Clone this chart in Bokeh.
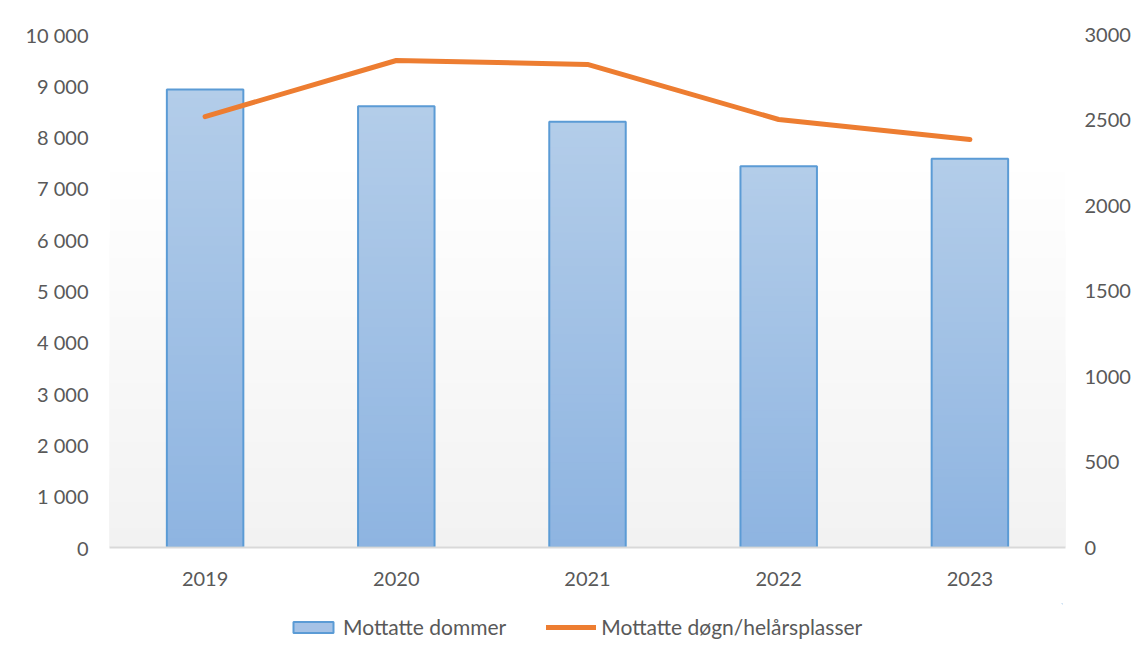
import numpy as np
from bokeh.plotting import figure
from bokeh.layouts import column
from bokeh.models import (Range1d, LinearAxis, FixedTicker, Legend, LegendItem,
                          BoxAnnotation, FactorRange)
from bokeh.embed import file_html
from bokeh.resources import INLINE

# ---------------- data ----------------
years = ["2019", "2020", "2021", "2022", "2023"]
dommer = [8930, 8600, 8300, 7430, 7580]          # Mottatte dommer (left axis)
plasser = [2520, 2848, 2825, 2503, 2386]         # Mottatte døgn/helårsplasser (right axis)
left_ticks = [0, 1000, 2000, 3000, 4000, 5000, 6000, 7000, 8000, 9000, 10000]
right_ticks = [0, 500, 1000, 1500, 2000, 2500, 3000]
left_labels = {t: f"{t:,}".replace(",", " ") for t in left_ticks}
right_labels = {t: str(t) for t in right_ticks}
series_names = ["Mottatte dommer", "Mottatte døgn/helårsplasser"]

# ---------------- style ----------------
FONT = "Lato"
TXT = "#595959"
BAR_TOP = np.array([0xB3, 0xCD, 0xE9])
BAR_BOT = np.array([0x8E, 0xB4, 0xE1])
BAR_MID = "#A5C2E6"
BAR_LINE = "#5B9BD5"
LINE_COL = "#ED7D31"
BG_GRAD_TOP = 7700   # background gradient top (left-axis units)
BG_TOP = np.array([0xFF, 0xFF, 0xFF])
BG_BOT = np.array([0xF2, 0xF2, 0xF2])


def hexc(c):
    c = np.clip(np.round(c), 0, 255).astype(int)
    return "#%02x%02x%02x" % tuple(c)


p = figure(frame_width=956, frame_height=513, x_range=FactorRange(*years),
           y_range=Range1d(0, 10000), output_backend="svg", toolbar_location=None,
           min_border_left=109, min_border_right=65, min_border_top=34,
           min_border_bottom=56)
p.extra_y_ranges = {"right": Range1d(0, 3000)}
p.outline_line_color = None
p.xgrid.visible = False
p.ygrid.visible = False
p.background_fill_color = "white"
p.border_fill_color = "white"

# background gradient (drawn tallest first, lighter; shorter darker on top)
M = 60
for k in range(M, 0, -1):
    f = (k - 1) / (M - 1)
    col = hexc(BG_BOT + (BG_TOP - BG_BOT) * f)
    p.add_layout(BoxAnnotation(bottom=0, top=BG_GRAD_TOP * k / M, fill_color=col,
                               fill_alpha=1, line_color=None, level="underlay"))

# bar gradient
N = 50
dom = np.array(dommer, dtype=float)
for k in range(N, 0, -1):
    f = (k - 1) / (N - 1)
    col = hexc(BAR_BOT + (BAR_TOP - BAR_BOT) * f)
    p.vbar(x=years, top=list(dom * k / N), bottom=0, width=0.4,
           fill_color=col, line_color=None)
# bar outline
p.vbar(x=years, top=dommer, bottom=0, width=0.4, fill_color=None,
       line_color=BAR_LINE, line_width=2)

# line
p.line(x=years, y=plasser, y_range_name="right", line_color=LINE_COL,
       line_width=5, line_cap="round", line_join="round")

# axes
for ax in [p.xaxis[0], p.yaxis[0]]:
    ax.major_tick_line_color = None
    ax.minor_tick_line_color = None
    ax.major_label_text_font = FONT
    ax.major_label_text_font_size = "20px"
    ax.major_label_text_color = TXT

p.xaxis.axis_line_color = "#D9D9D9"
p.xaxis.axis_line_width = 2
p.xaxis.major_label_standoff = 18

ly = p.yaxis[0]
ly.axis_line_color = None
ly.ticker = FixedTicker(ticks=left_ticks)
ly.major_label_overrides = left_labels
ly.major_label_standoff = 15

ry = LinearAxis(y_range_name="right", ticker=FixedTicker(ticks=right_ticks),
                major_label_overrides=right_labels)
ry.axis_line_color = None
ry.major_tick_line_color = None
ry.minor_tick_line_color = None
ry.major_label_text_font = FONT
ry.major_label_text_font_size = "20px"
ry.major_label_text_color = TXT
ry.major_label_standoff = 13
p.add_layout(ry, "right")

# ---------------- legend strip (separate figure below) ----------------
p2 = figure(width=1130, height=50, x_range=Range1d(0, 1), y_range=Range1d(0, 1),
            x_axis_type=None, y_axis_type=None,
            output_backend="svg", toolbar_location=None,
            min_border_left=0, min_border_right=0, min_border_top=0,
            min_border_bottom=0)
p2.grid.visible = False
p2.outline_line_color = None
p2.background_fill_color = "white"
p2.border_fill_color = "white"
# proxy glyphs placed outside the visible range: only their legend swatches show
bar_proxy = p2.vbar(x=[5], top=[5], bottom=[4], width=0.4, fill_color=BAR_MID,
                    line_color=BAR_LINE, line_width=2)
line_proxy = p2.line(x=[5, 6], y=[5, 5], line_color=LINE_COL, line_width=5,
                     line_cap="round")

legend = Legend(items=[LegendItem(label=series_names[0], renderers=[bar_proxy]),
                       LegendItem(label=series_names[1], renderers=[line_proxy])],
                orientation="horizontal", location=(179, 14),
                border_line_color=None, background_fill_alpha=0,
                glyph_width=50, glyph_height=14, label_height=24,
                label_standoff=5, spacing=40, margin=0, padding=0,
                label_text_font=FONT, label_text_font_size="21px",
                label_text_color=TXT)
p2.add_layout(legend)

layout = column(p, p2, spacing=0)
open("out.html", "w").write(file_html(layout, INLINE))
